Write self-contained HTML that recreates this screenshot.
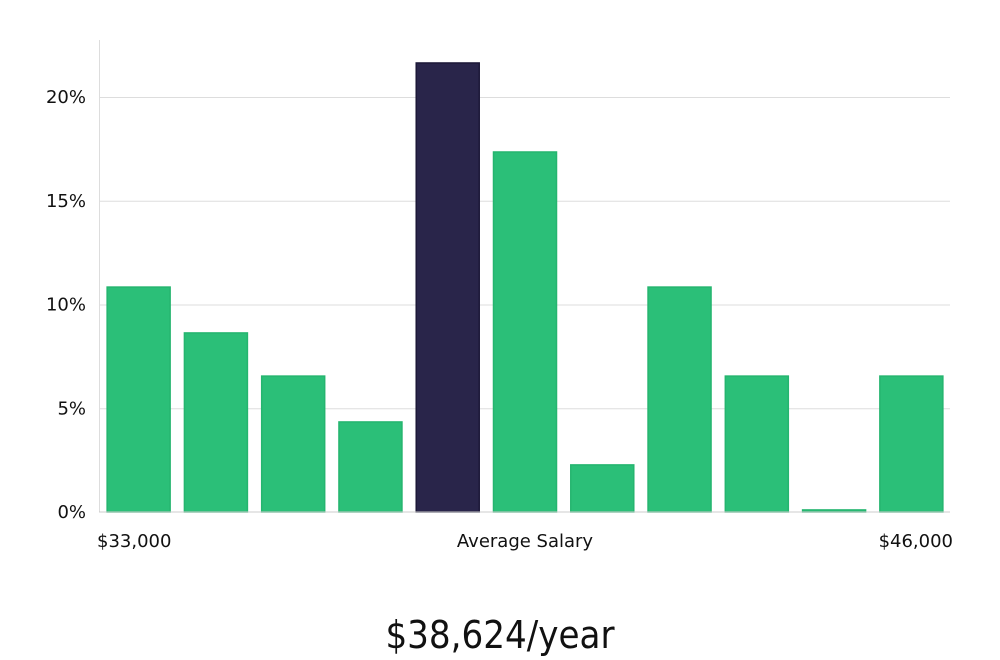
<!DOCTYPE html>
<html><head><meta charset="utf-8"><style>
body{margin:0;background:#fff;width:1000px;height:660px;overflow:hidden;font-family:"DejaVu Sans","Liberation Sans",sans-serif;}
svg{display:block}
</style></head><body>
<svg id="chart" width="1000" height="660" xmlns="http://www.w3.org/2000/svg">
<g id="grid"></g>
<g id="bars"></g>
<g id="yticks"></g>
<line x1="99.5" y1="40" x2="99.5" y2="512" stroke="#ddd"/>
<line x1="99" y1="512" x2="950" y2="512" stroke="#ccc"/>
<text x="97" y="547" font-size="18" fill="#111">$33,000</text>
<text x="525" y="547" font-size="18" fill="#111" text-anchor="middle">Average Salary</text>
<text x="953" y="547" font-size="18" fill="#111" text-anchor="end">$46,000</text>
<text x="500" y="648" font-size="38" fill="#111" text-anchor="middle" font-family="'Liberation Sans Narrow','DejaVu Sans Condensed',sans-serif">$38,624/year</text>
</svg>
<script>
const values=[10.84,8.63,6.55,4.34,21.64,17.35,2.27,10.84,6.55,0.1,6.55];
const highlight=[false,false,false,false,true,false,false,false,false,false,false];
const tickValues=[0,5,10,15,20];
const tickLabels=["0%","5%","10%","15%","20%"];
const NS="http://www.w3.org/2000/svg";
const x0=100,x1=950,yBase=512,pxPer=20.75;
const y=v=>yBase-v*pxPer;
const slot=(x1-x0)/values.length;
const grid=document.getElementById('grid'),bars=document.getElementById('bars'),yt=document.getElementById('yticks');
tickValues.forEach((t,i)=>{
 if(t>0){const l=document.createElementNS(NS,'line');
 
 
 l.setAttribute('x1',x0);l.setAttribute('x2',x1);l.setAttribute('y1',y(t)+0.5);l.setAttribute('y2',y(t)+0.5);l.setAttribute('stroke','#ddd');grid.appendChild(l);}
 const tx=document.createElementNS(NS,'text');
 
 
 tx.setAttribute('x',86);tx.setAttribute('y',y(t)+6);tx.setAttribute('text-anchor','end');tx.setAttribute('font-size','18');tx.setAttribute('fill','#111');
 tx.textContent=tickLabels[i];yt.appendChild(tx);
});
values.forEach((v,i)=>{
 const r=document.createElementNS(NS,'rect');
 
 
 const w=63;r.setAttribute('x',x0+slot*i+(slot-w)/2);r.setAttribute('width',w);
 r.setAttribute('y',y(v));r.setAttribute('height',Math.max(1,v*pxPer));
 r.setAttribute('fill',highlight[i]?'#29254a':'#2bbf78');
 r.setAttribute('stroke',highlight[i]?'#1c1838':'#25b56f');r.setAttribute('stroke-width','1.5');
 bars.appendChild(r);
});
</script>
</body></html>
